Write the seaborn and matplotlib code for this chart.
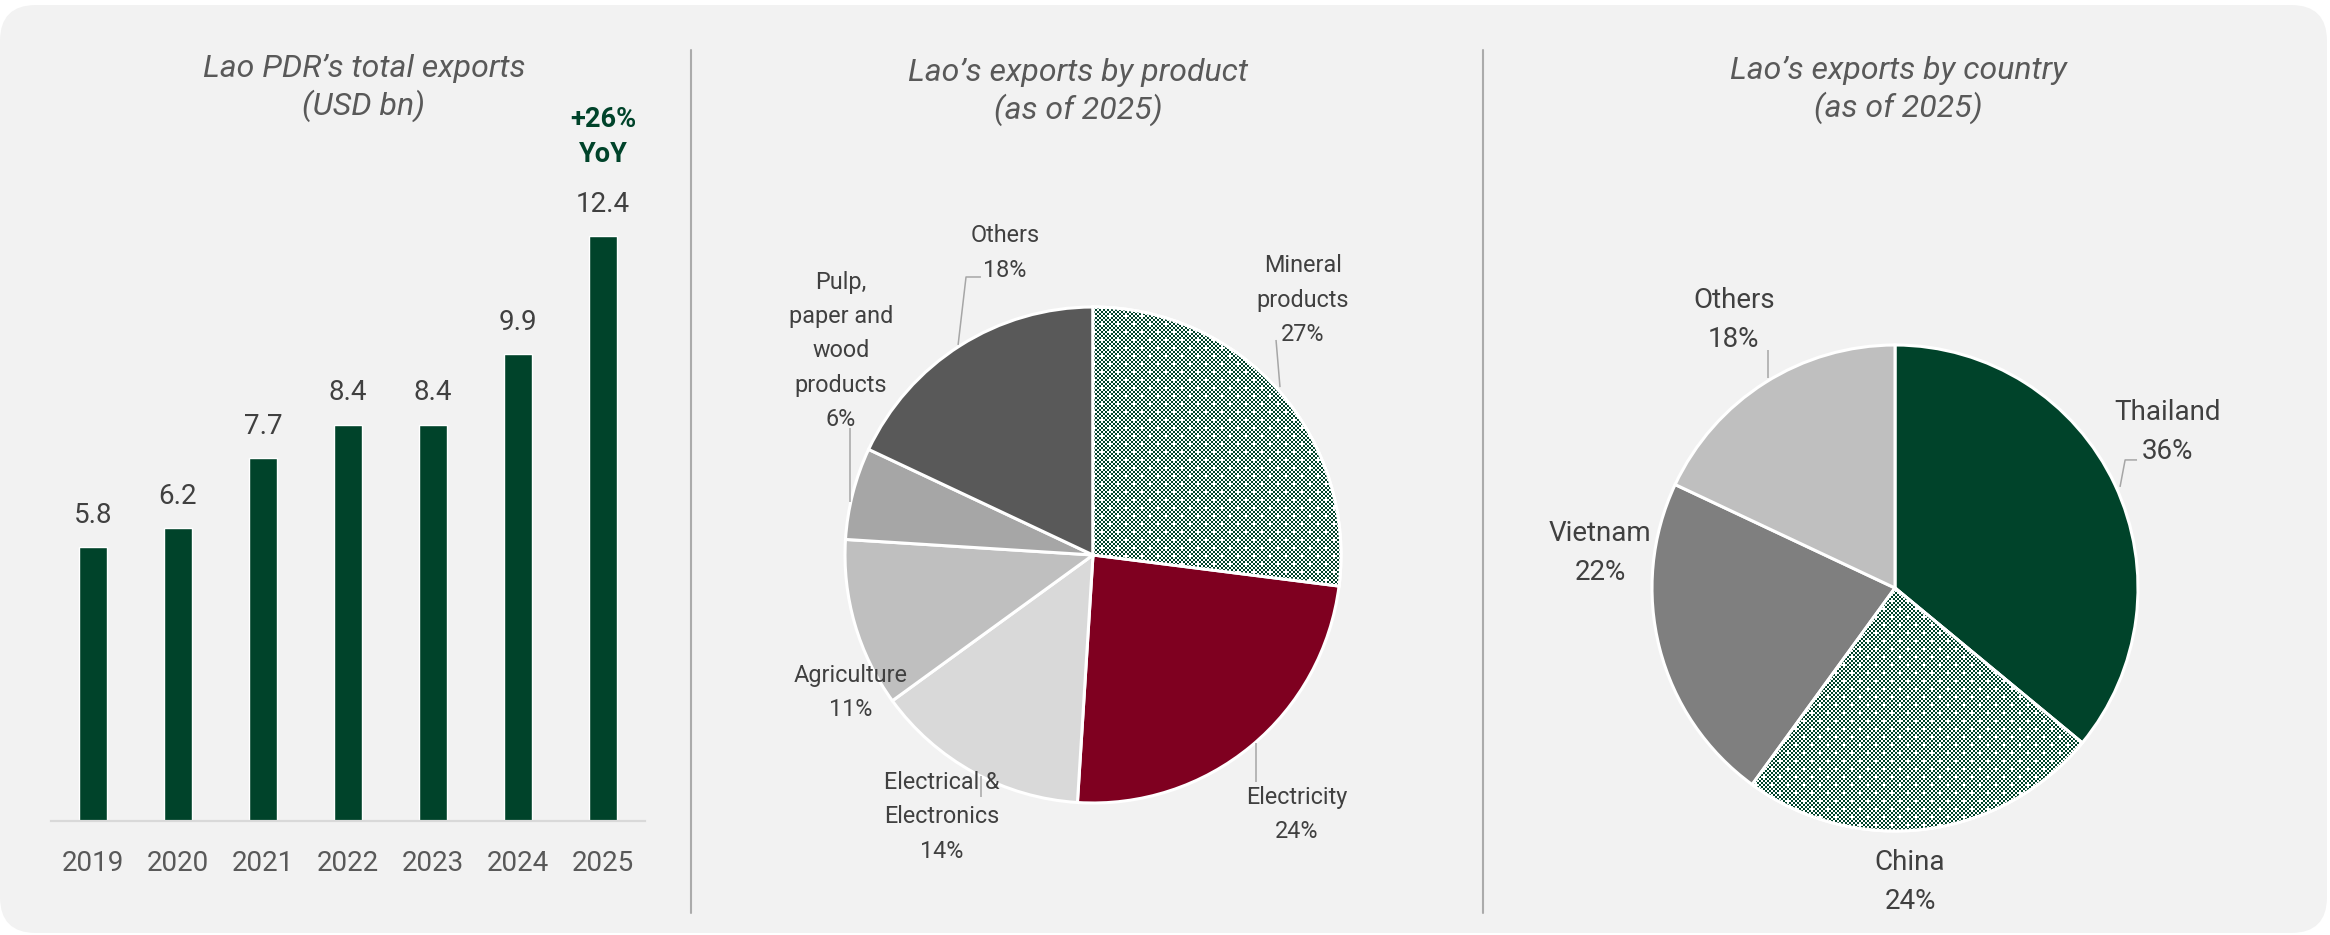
import numpy as np
import matplotlib
matplotlib.use("Agg")
import matplotlib.pyplot as plt
import matplotlib.patches as mpatches
from matplotlib.lines import Line2D
from matplotlib.transforms import IdentityTransform
import seaborn as sns

# ---------------- data ----------------
years = ["2019", "2020", "2021", "2022", "2023", "2024", "2025"]
total_exports = [5.8, 6.2, 7.7, 8.4, 8.4, 9.9, 12.4]
yoy_text = "+26%\nYoY"

products = ["Mineral\nproducts", "Electricity", "Electrical &\nElectronics",
            "Agriculture", "Pulp,\npaper and\nwood\nproducts", "Others"]
product_share = [27, 24, 14, 11, 6, 18]

countries = ["Thailand", "China", "Vietnam", "Others"]
country_share = [36, 24, 22, 18]

titles = ["Lao PDR’s total exports\n(USD bn)",
          "Lao’s exports by product\n(as of 2025)",
          "Lao’s exports by country\n(as of 2025)"]

# ---------------- style ----------------
GREEN = "#00432A"
MAROON = "#7F0020"
TEXT = "#404040"
TITLE = "#595959"
LEADER = "#A6A6A6"
product_colors = [GREEN, MAROON, "#D9D9D9", "#BFBFBF", "#A6A6A6", "#595959"]
country_colors = [GREEN, GREEN, "#7F7F7F", "#BFBFBF"]
product_dotted = [0]
country_dotted = [1]

W, H, DPI = 2330, 935, 100

sns.set_theme(style="white")
plt.rcParams["font.family"] = ["Roboto", "DejaVu Sans"]

fig = plt.figure(figsize=(W / DPI, H / DPI), dpi=DPI, facecolor="white")


def fx(x):
    return x / W


def fy(y):
    return 1 - y / H


# rounded panel background
bg = mpatches.FancyBboxPatch((0, 2), 2327, 928,
                             boxstyle="round,pad=0,rounding_size=36",
                             transform=IdentityTransform(),
                             facecolor="#F2F2F2", edgecolor="none", zorder=-10)
fig.add_artist(bg)

# vertical separators
for xs in (691, 1483):
    fig.add_artist(Line2D([fx(xs), fx(xs)], [fy(50), fy(913)],
                          transform=fig.transFigure, color="#ABABAB", lw=1.5))

# titles
for (cx, cy), t in zip([(364, 88), (1078, 92), (1898, 90)], titles):
    fig.text(fx(cx), fy(cy), t, ha="center", va="center", fontsize=23,
             style="italic", color=TITLE, linespacing=1.28)

# ---------------- bar chart ----------------
base_px, top_px, px_per_unit = 821, 150, 47.2
axb = fig.add_axes([fx(51), fy(base_px), 594 / W, (base_px - top_px) / H])
sns.barplot(x=years, y=total_exports, color=GREEN, saturation=1, width=0.32,
            errorbar=None, ax=axb)
axb.set_facecolor("none")
axb.set_xlim(-0.494, 6.494)
axb.set_ylim(0, (base_px - top_px) / px_per_unit)
for s in ("left", "right", "top"):
    axb.spines[s].set_visible(False)
axb.spines["bottom"].set_color("#D9D9D9")
axb.spines["bottom"].set_linewidth(1.6)
axb.set_yticks([])
axb.set_xlabel("")
axb.set_ylabel("")
axb.tick_params(axis="x", length=0, pad=21, labelsize=20, labelcolor=TITLE)
axb.bar_label(axb.containers[0], labels=[f"{v:.1f}" for v in total_exports],
              padding=13, fontsize=20, color=TEXT)
axb.annotate(yoy_text, xy=(len(years) - 1, total_exports[-1]), xytext=(0, 71),
             textcoords="offset points", ha="center", va="center",
             fontsize=19.5, fontweight="bold", color=GREEN, linespacing=1.38,
             annotation_clip=False)


# ---------------- pies ----------------
def dotted_texture(h, w, cell=2):
    yy, xx = np.mgrid[0:h, 0:w]
    i, j = yy // cell, xx // cell
    green = (i + j) % 2 == 0
    cross = ((i % 8 == 0) & (j % 8 == 0)) | ((i % 8 == 4) & (j % 8 == 4))
    green &= ~cross
    img = np.ones((h, w, 3))
    img[green] = matplotlib.colors.to_rgb(GREEN)
    return img


def draw_pie(center, r_px, half_px, values, names, colors, dotted,
             label_xy, leaders, fs, ls):
    cx, cy = center
    ax = fig.add_axes([fx(cx - half_px), fy(cy + half_px), 2 * half_px / W, 2 * half_px / H])
    ax.set_facecolor("none")
    lim = half_px / r_px
    wedges, _ = ax.pie(values, colors=colors, startangle=90, counterclock=False,
                       radius=1.0, wedgeprops=dict(edgecolor="white", linewidth=2.2))
    tex = dotted_texture(2 * half_px, 2 * half_px)
    for k in dotted:
        w = wedges[k]
        im = ax.imshow(tex, extent=(-lim, lim, -lim, lim), interpolation="none",
                       zorder=w.get_zorder() + 0.5)
        im.set_clip_path(w)
        ax.add_patch(mpatches.Wedge(w.center, w.r, w.theta1, w.theta2,
                                    facecolor="none", edgecolor="white",
                                    linewidth=2.2, zorder=w.get_zorder() + 1))
    ax.set_xlim(-lim, lim)
    ax.set_ylim(-lim, lim)
    ax.set_aspect("equal")
    ax.axis("off")
    for name, v, (lx, ly) in zip(names, values, label_xy):
        ax.text(lx, ly, f"{name}\n{v}%", ha="center", va="center", fontsize=fs,
                color=TEXT, linespacing=ls)
    for pts in leaders:
        xs, ys = zip(*pts)
        ax.plot(xs, ys, color=LEADER, lw=1.1, solid_capstyle="butt", zorder=5)
    return ax


product_label_xy = [(0.847, 1.028), (0.823, -1.048), (-0.609, -1.056),
                    (-0.976, -0.556), (-1.016, 0.823), (-0.355, 1.218)]
product_leaders = [
    [(0.738, 0.867), (0.754, 0.677)],
    [(0.657, -0.758), (0.657, -0.915)],
    [(-0.452, -0.892), (-0.452, -0.976)],
    [(-0.980, 0.512), (-0.980, 0.214)],
    [(-0.452, 1.121), (-0.512, 1.121), (-0.544, 0.847)],
]
draw_pie((1093, 555), 248, 360, product_share, products, product_colors,
         product_dotted, product_label_xy, product_leaders, fs=16.8, ls=1.62)

country_label_xy = [(1.123, 0.642), (0.062, -1.210), (-1.214, 0.144), (-0.663, 1.103)]
country_leaders = [
    [(0.926, 0.416), (0.947, 0.527), (0.996, 0.527)],
    [(-0.523, 0.979), (-0.523, 0.864)],
]
draw_pie((1895, 588), 243, 340, country_share, countries, country_colors,
         country_dotted, country_label_xy, country_leaders, fs=20, ls=1.6)

fig.savefig("out.png", dpi=DPI, facecolor="white")
